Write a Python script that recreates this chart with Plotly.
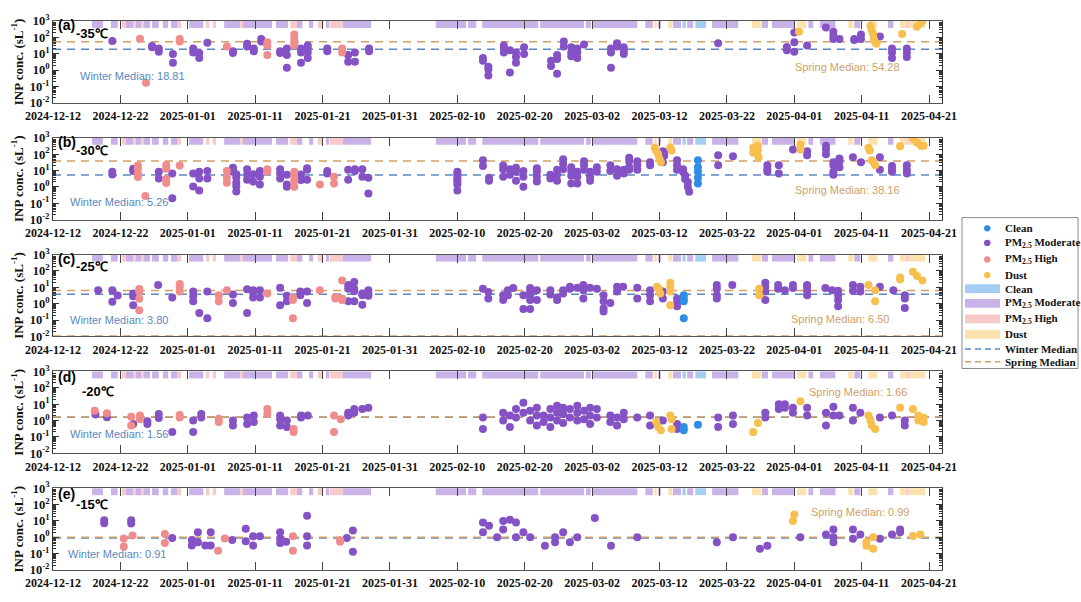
import plotly.graph_objects as go
import pandas as pd

# Campaign start; sample times and band limits are given as days since this date
START = "2024-12-12"
X_END = "2025-04-22 22:00"

M, H, D, C = "PM2.5 Moderate", "PM2.5 High", "Dust", "Clean"

# Pollution-type periods shown as the strip along the top of each panel: (start day, end day, type)
bands = [
    (5.8, 7.4, M), (8.6, 9.6, M), (10.2, 10.8, H), (10.8, 11.9, M), (11.9, 12.3, H),
    (12.3, 13.1, M), (13.1, 13.5, H), (13.5, 14.4, M), (14.7, 15.7, M), (16.3, 17.1, M),
    (17.5, 18.4, M), (18.4, 19.0, H), (20.2, 22.3, M), (22.7, 23.2, H), (23.7, 24.2, H),
    (25.4, 27.8, M), (27.8, 28.2, H), (28.2, 32.5, M), (33.1, 34.9, M), (35.2, 36.2, H),
    (36.2, 37.0, M), (38.0, 38.6, M), (39.3, 40.1, H), (40.5, 41.0, M), (41.1, 43.0, H),
    (43.0, 47.2, M), (56.8, 61.3, M), (61.6, 62.8, M), (63.7, 72.0, M), (72.3, 78.8, M),
    (79.1, 79.8, M), (80.1, 86.7, M), (87.9, 89.0, M), (89.2, 89.6, D), (89.8, 90.2, M),
    (91.3, 91.9, D), (92.0, 93.2, M), (93.4, 93.9, C), (94.1, 95.0, M), (95.3, 96.9, C),
    (97.8, 101.7, M), (103.7, 105.1, D), (105.2, 106.1, M), (106.7, 110.1, M), (110.4, 111.8, D),
    (112.1, 112.8, M), (113.8, 116.1, M), (118.0, 118.7, D), (118.9, 119.8, M), (121.0, 122.3, D),
    (123.9, 124.7, M), (125.7, 126.6, D), (126.6, 127.0, H), (127.0, 129.4, D),
]

# INP concentrations (sL^-1): (day, value, type) per freezing temperature
inp_35 = [
    (8.8, 59, M), (12.9, 81, H), (13.8, 0.17, H), (14.7, 30, M), (14.7, 25, M),
    (15.7, 21, M), (15.7, 13, M), (17.8, 9.5, M), (17.8, 2.8, M), (18.8, 80, H), (18.8, 56, H),
    (20.8, 21, M), (20.8, 12, M), (21.7, 11, M), (21.7, 5.5, M), (22.9, 46, M), (25.8, 28, H),
    (26.7, 14, M), (26.7, 11, M), (28.8, 40, M), (28.8, 28, M), (29.8, 21, M), (29.8, 14, M),
    (30.9, 79, M), (30.9, 56, M), (31.8, 50, H), (31.8, 32, H), (31.8, 8.3, H),
    (33.7, 14, M), (33.7, 11, M), (34.7, 21, M), (34.7, 8.3, M), (34.7, 1.4, M),
    (35.8, 148, H), (35.8, 85, H), (35.8, 50, H), (35.8, 32, H),
    (36.8, 21, M), (36.8, 12, M), (36.8, 2.8, M), (37.8, 32, M), (37.8, 21, M), (37.8, 12, M), (37.8, 5.5, M),
    (40.7, 21, M), (40.7, 14, M), (42.9, 21, H), (42.9, 12, H), (43.8, 8.3, M), (43.8, 3.2, M),
    (44.8, 12, M), (44.8, 3.2, M), (46.9, 21, M), (46.9, 14, M),
    (63.8, 5.5, M), (63.8, 3.7, M), (64.6, 1.6, M), (64.6, 1.1, M), (64.6, 0.46, M),
    (66.9, 32, M), (66.9, 21, M), (66.9, 12, M), (67.8, 16, M), (67.8, 0.7, M),
    (68.7, 12, M), (68.7, 6.3, M), (68.7, 2.8, M), (69.9, 25, M), (69.9, 9.5, M),
    (73.9, 3.7, M), (73.9, 1.8, M), (74.8, 8.3, M), (74.8, 4.7, M), (74.8, 0.6, M),
    (75.8, 56, M), (75.8, 28, M), (76.9, 25, M), (76.9, 12, M), (76.9, 7, M),
    (77.8, 21, M), (77.8, 12, M), (77.8, 5.5, M), (78.8, 37, M),
    (82.8, 21, M), (82.8, 12, M), (82.8, 1.4, M), (83.7, 43, M), (83.7, 28, M),
    (84.7, 25, M), (84.7, 14, M), (84.7, 9.5, M), (98.7, 43, M),
    (108.9, 26, M), (108.9, 16, M), (110.0, 200, M), (110.0, 51, M), (110.0, 13, M), (110.7, 220, D),
    (111.9, 32, M), (114.7, 400, M), (115.8, 220, M), (115.8, 125, M), (115.8, 80, M), (116.7, 80, M),
    (118.9, 80, M), (118.9, 70, M), (119.9, 150, M), (119.9, 80, M),
    (121.3, 500, D), (121.5, 250, D), (121.7, 160, D), (121.8, 80, D), (122.0, 50, D), (122.2, 40, D),
    (122.7, 112, M), (124.5, 21, M), (124.5, 12, M), (124.5, 5.5, M), (126.0, 160, D),
    (126.7, 21, M), (126.7, 12, M), (126.7, 6.3, M), (128.2, 440, D), (128.7, 760, D), (129.0, 950, D),
]

inp_30 = [
    (8.8, 8.3, M), (8.8, 5.8, M), (11.9, 13, M), (11.9, 9.5, M),
    (12.6, 20, H), (12.6, 13, H), (12.6, 6.3, H), (12.6, 4, H), (13.7, 0.28, H),
    (15.7, 8.3, M), (15.7, 3.3, M), (16.8, 22, H), (16.8, 13, H), (16.8, 3, H), (16.8, 1.7, H),
    (17.7, 6.6, M), (17.7, 0.2, M), (18.8, 20, H), (20.8, 6.6, M), (20.8, 1.05, M),
    (21.7, 8.3, M), (21.7, 3.2, M), (21.7, 0.6, M), (22.9, 9.5, M), (22.9, 3.2, M),
    (25.8, 9.5, H), (25.8, 3.6, H), (25.8, 1.8, H),
    (26.7, 15, M), (26.7, 12, M), (26.7, 8.3, M), (27.2, 6, M), (27.2, 3.6, M), (27.2, 1.8, M),
    (27.2, 1.1, M), (27.2, 0.53, M), (28.8, 12, M), (28.8, 5.5, M), (28.8, 2.7, M),
    (29.7, 6, M), (29.7, 2.1, M), (30.7, 9.5, M), (30.7, 4.2, M), (30.7, 1.4, M),
    (31.8, 12, H), (31.8, 8.3, H), (33.7, 12, M), (33.7, 6.6, M), (33.7, 3.2, M),
    (34.7, 5.5, M), (34.7, 1.4, M), (34.7, 1.0, M),
    (35.8, 8.3, H), (35.8, 4.2, H), (35.8, 2.4, H), (35.8, 1.0, H),
    (36.8, 5.8, M), (36.8, 2.6, M), (37.7, 14, M), (37.7, 11, M), (37.7, 2.7, M),
    (39.6, 1.4, H), (40.7, 9.5, M), (40.7, 6.6, M), (41.7, 4.2, H), (41.7, 1.6, H),
    (43.8, 11, M), (43.8, 2.7, M), (44.8, 12, M), (44.8, 9.5, M),
    (45.9, 12, M), (45.9, 4.2, M), (46.8, 3.6, M), (46.8, 0.4, M),
    (60.0, 8.3, M), (60.0, 6.6, M), (60.0, 4.2, M), (60.0, 2.7, M), (60.0, 2.1, M), (60.0, 1.4, M), (60.0, 0.6, M),
    (63.8, 43, M), (63.8, 19, M), (64.7, 3.6, M), (64.7, 2.4, M),
    (66.8, 20, M), (66.8, 12, M), (66.8, 4.2, M), (67.8, 12, M), (67.8, 5.5, M),
    (68.7, 15, M), (68.7, 8.3, M), (68.7, 2.4, M), (69.8, 9.5, M), (69.8, 4.2, M), (69.8, 1.0, M),
    (71.8, 14, M), (71.8, 8.3, M), (71.8, 4.2, M), (71.8, 2.1, M),
    (73.8, 5.5, M), (73.8, 3.2, M), (74.8, 11, M), (74.8, 5.5, M), (74.8, 2.4, M),
    (75.7, 49, M), (75.7, 25, M), (75.7, 12, M),
    (76.9, 16, M), (76.9, 9.5, M), (76.9, 4.8, M), (76.9, 1.6, M),
    (77.8, 8.3, M), (77.8, 4.2, M), (77.8, 1.6, M), (78.8, 37, M), (78.8, 21, M), (78.8, 11, M),
    (79.7, 8.3, M), (79.7, 4.2, M), (79.7, 2.4, M), (80.7, 16, M), (80.7, 8.3, M),
    (82.7, 21, M), (82.7, 9.5, M), (83.7, 12, M), (83.7, 4.8, M), (84.7, 11, M), (84.7, 6.6, M),
    (85.5, 60, M), (85.5, 37, M), (85.5, 16, M), (85.5, 11, M), (86.7, 37, M), (86.7, 21, M), (86.7, 11, M),
    (88.6, 32, M), (88.6, 21, M),
    (89.3, 250, D), (89.5, 170, D), (89.8, 100, D), (90.0, 50, D), (90.2, 32, D),
    (90.5, 150, M), (90.7, 120, M), (90.7, 80, M), (90.5, 32, M), (91.6, 250, D), (91.8, 170, D),
    (92.6, 43, M), (92.6, 21, M), (92.6, 11, M),
    (93.5, 12, M), (93.5, 8, M), (93.8, 5, M), (93.8, 3, M), (94.2, 2, M), (94.2, 1, M), (94.4, 0.5, M),
    (95.7, 43, C), (95.7, 16, C), (95.7, 8.3, C), (95.7, 3.6, C), (95.7, 1.6, C),
    (98.7, 85, M), (98.7, 21, M), (100.9, 75, M),
    (103.9, 250, D), (103.9, 120, D), (104.6, 330, D), (104.6, 170, D), (104.7, 65, D),
    (106.0, 21, M), (106.0, 12, M), (106.0, 8.3, M), (107.7, 21, M), (107.7, 6.6, M),
    (109.8, 190, M), (110.9, 380, D), (110.9, 190, D), (111.9, 150, M), (111.9, 85, M),
    (114.7, 330, M), (114.7, 190, M), (114.7, 100, M),
    (115.8, 32, M), (115.8, 21, M), (115.8, 8.3, M), (115.8, 5.5, M),
    (116.7, 55, M), (116.7, 37, M), (116.7, 16, M), (118.7, 65, M), (119.9, 32, M),
    (121.0, 250, D), (121.2, 170, D), (121.5, 43, D), (121.8, 32, D), (122.0, 21, D),
    (122.7, 65, M), (122.7, 11, M), (124.5, 19, M), (124.5, 12, M), (124.5, 8.3, M),
    (125.7, 300, D), (126.7, 21, M), (126.7, 11, M), (126.7, 6.6, M),
    (127.6, 870, D), (128.2, 500, D), (128.8, 330, D), (129.2, 330, D),
]

inp_25 = [
    (6.7, 6.6, M), (8.8, 6.6, M), (8.8, 1.3, M), (9.6, 3.2, M),
    (11.9, 4.2, M), (11.9, 2.8, M), (11.9, 0.8, M),
    (12.8, 8, H), (12.8, 5.5, H), (12.8, 2, H), (12.8, 0.4, H), (15.6, 14, M), (17.7, 2.4, M),
    (18.8, 16, H), (18.8, 11, H), (18.8, 5.5, H),
    (20.8, 5.5, M), (20.8, 2.8, M), (20.8, 1.4, M), (21.7, 0.27, M), (22.9, 5.5, M), (22.9, 0.13, M),
    (24.6, 3.3, H), (24.6, 1.4, H), (25.8, 6.6, H), (26.7, 3.6, M), (26.7, 1.1, M),
    (28.8, 7.5, M), (28.8, 0.27, M), (29.7, 6.6, M), (29.7, 5.5, M), (29.7, 2.4, M),
    (30.7, 6.6, M), (30.7, 2.4, M), (31.8, 4.2, H), (33.7, 9.5, M), (33.7, 0.8, M),
    (34.7, 3.1, M), (34.7, 1.4, M), (35.6, 2.4, H), (35.6, 1.7, H), (35.6, 0.13, H),
    (36.7, 5.5, M), (36.7, 3.3, M), (37.7, 5.5, M), (37.7, 1.1, M), (39.6, 6.6, H),
    (41.9, 2.6, H), (41.9, 2.1, H), (42.9, 26, H), (42.9, 2.1, H), (42.9, 1.7, H),
    (43.8, 14, M), (43.8, 8.3, M), (43.8, 1.4, M),
    (44.7, 21, M), (44.7, 8.3, M), (44.7, 5.8, M), (44.7, 1.4, M),
    (45.9, 4.2, M), (45.9, 3.3, M), (45.9, 0.85, M), (46.8, 6.6, M), (46.8, 4.2, M), (46.8, 3.1, M),
    (63.8, 8.3, M), (64.6, 5.2, M), (64.6, 2.1, M), (66.8, 3.3, M), (66.8, 1.7, M),
    (67.5, 6.6, M), (67.5, 3.3, M), (68.3, 9.1, M), (69.8, 3.3, M), (69.8, 0.48, M),
    (70.8, 9.1, M), (70.8, 5.5, M), (70.8, 3.3, M), (70.8, 1.7, M), (70.8, 0.48, M),
    (71.8, 6.6, M), (71.8, 1.7, M), (73.8, 6.6, M), (73.8, 3.6, M), (74.8, 2.4, M), (74.8, 1.7, M),
    (75.7, 6.6, M), (75.7, 4.2, M), (76.7, 11, M), (76.7, 8.3, M), (77.8, 9.5, M),
    (78.7, 14, M), (78.7, 6.6, M), (78.7, 2.1, M), (79.7, 9.5, M), (80.7, 8.3, M),
    (81.7, 3.3, M), (81.7, 1.4, M), (81.7, 0.5, M), (81.7, 0.33, M), (82.7, 1.1, M),
    (83.7, 11, M), (83.7, 5.5, M), (84.6, 11, M), (86.7, 9.5, M), (86.7, 2.1, M),
    (88.6, 6.6, M), (88.6, 3.3, M), (88.6, 1.4, M),
    (89.6, 11, D), (89.9, 8.3, D), (90.1, 4.2, D), (90.5, 5.5, M), (90.5, 2.1, M),
    (91.6, 19, D), (91.6, 11, D), (91.6, 5.5, D), (91.6, 0.8, D),
    (92.6, 2.1, M), (92.6, 1.1, M), (92.6, 0.7, M),
    (93.6, 3.3, C), (93.6, 2.1, C), (93.6, 1.4, C), (93.6, 0.13, C),
    (98.5, 14, M), (98.5, 8.3, M), (98.5, 3.3, M), (98.5, 2.1, M), (100.8, 14, M),
    (104.8, 8.3, D), (104.8, 3.3, D), (105.7, 19, M), (105.7, 11, M), (105.7, 5.5, M), (105.7, 1.7, M),
    (107.6, 14, M), (107.6, 8.3, M), (108.6, 6.6, M), (109.8, 14, M), (109.8, 9.1, M),
    (111.9, 14, M), (111.9, 11, M), (111.9, 6.1, M), (111.9, 3.3, M),
    (114.6, 9.1, M), (115.6, 6.6, M), (116.5, 6.1, M), (116.5, 3.3, M), (116.5, 1.7, M), (116.5, 0.7, M),
    (118.7, 14, M), (118.7, 6.1, M), (119.8, 11, M), (119.8, 5.5, M),
    (121.0, 14, D), (122.0, 6.6, D), (122.0, 1.4, D), (122.7, 11, M), (124.7, 6.6, M),
    (125.7, 40, D), (125.7, 30, D), (126.4, 3.3, M), (126.4, 2.1, M), (126.4, 0.55, M),
    (127.6, 90, D), (128.2, 50, D), (129.0, 26, D),
]

inp_20 = [
    (6.2, 4.0, H), (6.3, 2.3, M), (8.0, 2.8, H), (8.0, 1.6, M),
    (11.6, 1.7, H), (11.6, 0.5, H), (11.9, 0.6, M), (12.9, 2.0, H), (12.9, 1.2, H),
    (14.0, 0.9, M), (14.0, 0.6, M), (15.7, 2.5, M), (15.7, 1.4, M), (17.7, 0.2, M),
    (18.8, 2.2, H), (18.8, 1.5, H), (20.8, 0.2, M), (20.8, 1.0, M), (22.0, 2.5, M), (22.0, 1.5, M),
    (24.6, 0.8, H), (24.6, 1.3, H), (26.7, 1.0, M), (26.7, 0.5, M), (28.8, 1.5, M), (28.8, 0.6, M),
    (29.8, 2.0, M), (29.8, 0.8, M), (31.8, 5.0, H), (31.8, 2.5, H),
    (33.7, 2.0, M), (33.7, 1.2, M), (33.7, 0.5, M), (34.7, 1.0, M), (34.7, 0.4, M),
    (35.7, 0.3, H), (35.7, 0.2, H), (36.8, 1.5, M), (36.8, 2.0, M), (37.8, 2.0, M),
    (41.7, 2.0, H), (41.7, 0.2, H), (42.7, 1.2, H), (43.8, 3.0, M), (43.8, 2.0, M),
    (44.7, 5.0, M), (44.7, 3.0, M), (45.9, 5.0, M), (46.8, 6.0, M),
    (63.8, 1.5, M), (63.8, 0.3, M), (66.8, 3.0, M), (66.8, 1.0, M), (67.8, 2.0, M), (67.8, 0.4, M),
    (68.7, 5.0, M), (68.7, 1.5, M), (69.8, 12, M), (69.8, 3.0, M), (70.8, 4, M), (70.8, 1.0, M),
    (71.8, 6, M), (71.8, 2, M), (71.8, 0.5, M), (72.8, 2.0, M), (72.8, 0.8, M),
    (73.8, 5.0, M), (73.8, 1.5, M), (73.8, 0.4, M), (74.8, 8, M), (74.8, 3, M), (74.8, 1, M),
    (75.7, 6, M), (75.7, 2.5, M), (75.7, 0.7, M), (76.7, 5, M), (76.7, 1.5, M),
    (77.8, 8, M), (77.8, 3, M), (77.8, 1, M), (78.8, 4, M), (78.8, 1.2, M),
    (79.7, 6, M), (79.7, 2, M), (79.7, 0.6, M), (80.7, 5, M), (80.7, 1.5, M),
    (82.7, 2, M), (82.7, 0.8, M), (83.7, 1.5, M), (83.7, 0.5, M), (84.7, 3, M), (84.7, 1.2, M),
    (86.7, 1.5, M), (88.6, 2, M), (88.6, 0.5, M),
    (89.5, 0.8, D), (89.8, 0.4, D), (90.2, 0.25, D), (90.5, 1.0, M),
    (91.6, 2.0, D), (91.8, 1.2, D), (91.8, 0.3, D), (92.6, 0.6, M), (92.6, 0.3, M),
    (93.6, 0.4, C), (93.6, 0.25, C), (95.7, 0.55, C),
    (98.7, 1.5, M), (98.7, 0.4, M), (100.9, 2, M), (100.9, 0.6, M),
    (103.9, 0.2, D), (104.6, 0.7, D), (105.7, 3, M), (105.7, 1.5, M),
    (107.7, 10, M), (107.7, 5, M), (108.6, 10, M), (108.6, 6, M), (109.8, 6, M), (109.8, 3, M),
    (110.9, 15, D), (111.9, 6, M), (111.9, 2, M), (114.7, 3, M), (114.7, 0.5, M),
    (115.8, 7, M), (115.8, 2, M), (116.7, 2, M), (118.7, 6, M), (118.7, 1, M), (119.8, 3, M),
    (121.0, 2, D), (121.3, 1, D), (121.5, 0.5, D), (122.0, 0.3, D), (122.7, 1.5, M), (124.5, 2, M),
    (125.7, 6, D), (126.4, 1, M), (126.4, 0.5, M),
    (127.6, 5, D), (128.4, 2, D), (128.4, 1, D), (129.2, 1.5, D), (129.2, 0.8, D),
]

inp_15 = [
    (7.6, 11, M), (7.6, 7.2, M), (10.5, 0.83, H), (10.5, 0.27, H), (11.6, 11, M), (11.6, 7, M),
    (11.8, 1.3, H), (16.6, 1.6, H), (16.6, 0.45, H), (17.7, 0.9, M),
    (20.6, 0.68, M), (20.6, 0.31, M), (21.5, 2.0, M), (21.5, 0.49, M), (22.6, 0.31, M),
    (23.4, 2.0, M), (23.4, 0.31, M), (24.5, 0.15, H), (25.5, 0.84, H), (26.6, 0.68, M),
    (28.6, 3.3, M), (28.6, 0.58, M), (29.7, 1.15, M), (29.7, 0.31, M), (30.7, 1.15, M),
    (33.7, 2.0, M), (33.7, 0.83, M), (33.7, 0.45, M), (34.6, 0.53, M), (35.6, 1.15, H), (35.6, 0.15, H),
    (37.7, 21, M), (37.7, 1.15, M), (37.7, 0.31, M), (42.6, 0.65, H), (42.6, 0.53, H),
    (43.6, 0.9, M), (44.5, 2.6, M), (44.5, 0.13, M),
    (63.8, 8, M), (63.8, 2, M), (64.7, 5, M), (65.9, 1, M), (66.8, 10, M), (66.8, 3, M),
    (67.8, 12, M), (68.7, 8, M), (68.7, 1, M), (69.8, 2, M), (70.8, 1, M),
    (73.0, 0.3, M), (74.5, 0.5, M), (74.5, 1.0, M), (75.7, 2, M), (76.7, 0.5, M), (77.8, 1, M),
    (80.4, 15, M), (82.8, 0.3, M), (86.7, 1, M), (98.5, 0.5, M), (100.9, 1, M),
    (104.9, 0.2, M), (106.0, 0.3, M), (109.8, 10, D), (110.0, 25, D), (110.9, 1, M),
    (114.7, 1.5, M), (115.8, 3, M), (115.8, 1, M), (115.8, 0.5, M),
    (118.7, 3, M), (118.7, 0.8, M), (119.8, 1.5, M),
    (120.7, 0.5, D), (120.7, 0.3, D), (121.7, 1, D), (121.7, 0.2, D),
    (122.7, 0.8, M), (124.5, 1.5, M), (125.7, 3, M), (125.7, 2, M), (127.6, 1.2, D), (128.7, 1.5, D),
]

panel_labels = ["(a)", "(b)", "(c)", "(d)", "(e)"]
temperatures = ["-35℃", "-30℃", "-25℃", "-20℃", "-15℃"]
winter_medians = [18.81, 5.26, 3.80, 1.56, 0.91]
spring_medians = [54.28, 38.16, 6.50, 1.66, 0.99]
panel_data = [inp_35, inp_30, inp_25, inp_20, inp_15]

x_tick_dates = pd.date_range(START, "2025-04-21", freq="10D")
y_tick_vals = [1e-2, 1e-1, 1e0, 1e1, 1e2, 1e3]
y_tick_text = ["10<sup>-2</sup>", "10<sup>-1</sup>", "10<sup>0</sup>",
               "10<sup>1</sup>", "10<sup>2</sup>", "10<sup>3</sup>"]

point_colors = {C: "#2F8DE4", M: "#8552C6", H: "#F08C8C", D: "#F6BF4E"}
band_colors = {C: "#A5CEF3", M: "#C8B2E8", H: "#F8CACA", D: "#FBE1AE"}
winter_color = "#5A88C2"
spring_color = "#D2A064"
legend_names = {C: "Clean", M: "PM<sub>2.5</sub> Moderate", H: "PM<sub>2.5</sub> High", D: "Dust"}

SERIF = "Liberation Serif"
SANS = "Liberation Sans"

# figure / plot-area geometry in pixels
FIG_W, FIG_H = 1081, 602
PLOT_L, PLOT_R, PLOT_T, PLOT_B = 53, 942, 15, 579
PW, PH = PLOT_R - PLOT_L, PLOT_B - PLOT_T

t0 = pd.Timestamp(START)


def to_dates(days):
    return [t0 + pd.Timedelta(days=d) for d in days]


def px_x(px):
    return (px - PLOT_L) / PW


def px_y(py):
    return (PLOT_B - py) / PH


fig = go.Figure()

panel_h = 84 / PH
step = 120 / PH
shapes = []
annotations = []
layout_axes = {}

for i, data in enumerate(panel_data):
    n = i + 1
    xa = "x" if n == 1 else f"x{n}"
    ya = "y" if n == 1 else f"y{n}"
    top = 1 - i * step
    bottom = top - panel_h

    # median lines
    span = [pd.Timestamp(START), pd.Timestamp(X_END)]
    fig.add_trace(go.Scatter(x=span, y=[winter_medians[i]] * 2, mode="lines", showlegend=False,
                             hoverinfo="skip", line=dict(color=winter_color, width=1.5, dash="8px,6px"),
                             xaxis=xa, yaxis=ya))
    fig.add_trace(go.Scatter(x=span, y=[spring_medians[i]] * 2, mode="lines", showlegend=False,
                             hoverinfo="skip", line=dict(color=spring_color, width=1.5, dash="8px,6px"),
                             xaxis=xa, yaxis=ya))
    if n == 3:
        fig.add_trace(go.Scatter(x=span, y=[0.0104, 0.0104], mode="lines", showlegend=False,
                                 hoverinfo="skip", line=dict(color=spring_color, width=1.5, dash="8px,6px"),
                                 xaxis=xa, yaxis=ya))

    # INP points by type
    for cat in [M, H, D, C]:
        pts = [p for p in data if p[2] == cat]
        if not pts:
            continue
        fig.add_trace(go.Scatter(x=to_dates([p[0] for p in pts]), y=[p[1] for p in pts],
                                 mode="markers", showlegend=False, name=cat,
                                 marker=dict(color=point_colors[cat], size=8),
                                 xaxis=xa, yaxis=ya))

    # pollution-type strip
    for b0, b1, cat in bands:
        shapes.append(dict(type="rect", xref=xa, yref=f"{ya} domain",
                           x0=t0 + pd.Timedelta(days=b0), x1=t0 + pd.Timedelta(days=b1),
                           y0=0.915, y1=1.0, fillcolor=band_colors[cat], line=dict(width=0),
                           layer="below"))

    layout_axes["xaxis" if n == 1 else f"xaxis{n}"] = dict(
        domain=[0, 1], anchor=ya, type="date", range=[START, X_END],
        tickvals=list(x_tick_dates), tickformat="%Y-%m-%d",
        ticks="inside", ticklen=8, tickcolor="#444", showline=True, linecolor="#555",
        linewidth=1, mirror="ticks", showgrid=False, zeroline=False, ticklabelstandoff=2,
        tickfont=dict(family=SERIF, size=12, color="#111", weight="bold"),
    )
    layout_axes["yaxis" if n == 1 else f"yaxis{n}"] = dict(
        domain=[bottom, top], anchor=xa, type="log", range=[-2, 3],
        tickvals=y_tick_vals, ticktext=y_tick_text, ticks="inside", ticklen=6,
        tickcolor="#333", showline=True, linecolor="#333", linewidth=1, mirror="ticks",
        showgrid=False, zeroline=False,
        minor=dict(ticks="inside", ticklen=3, tickcolor="#333", dtick="D1", showgrid=False),
        tickfont=dict(family=SERIF, size=12.5, color="#111", weight="bold"),
        title=dict(text="INP conc. (sL<sup>-1</sup>)", standoff=3,
                   font=dict(family=SERIF, size=13, color="#111", weight="bold")),
    )

    # labels
    label_y = {0: 0.952, 1: 0.952, 2: 0.952, 3: 0.93, 4: 0.93}[i]
    temp_x = 0.024 if i < 3 else (0.030 if i == 3 else 0.024)
    temp_y = 0.85 if i < 3 else (0.75 if i == 3 else 0.80)
    annotations.append(dict(text=panel_labels[i], xref=f"{xa} domain", yref=f"{ya} domain",
                            x=0.003, y=label_y, xanchor="left", yanchor="middle", showarrow=False,
                            font=dict(family=SANS, size=14, color="#000", weight="bold")))
    annotations.append(dict(text=temperatures[i], xref=f"{xa} domain", yref=f"{ya} domain",
                            x=temp_x, y=temp_y, xanchor="left", yanchor="middle", showarrow=False,
                            font=dict(family=SANS, size=13, color="#000", weight="bold")))
    wx, wy = [(0.028, 0.333), (0.017, 0.214), (0.017, 0.206), (0.017, 0.238), (0.015, 0.19)][i]
    sx, sy = [(0.832, 0.44), (0.832, 0.357), (0.828, 0.214), (0.848, 0.75), (0.850, 0.714)][i]
    annotations.append(dict(text=f"Winter Median: {winter_medians[i]:.2f}", xref=f"{xa} domain",
                            yref=f"{ya} domain", x=wx, y=wy, xanchor="left", yanchor="middle",
                            showarrow=False, font=dict(family=SANS, size=11, color=winter_color)))
    annotations.append(dict(text=f"Spring Median: {spring_medians[i]:.2f}", xref=f"{xa} domain",
                            yref=f"{ya} domain", x=sx, y=sy, xanchor="left", yanchor="middle",
                            showarrow=False, font=dict(family=SANS, size=11, color=spring_color)))

# legend box, drawn in paper coordinates
leg_font = dict(family=SERIF, size=11, color="#111", weight="bold")
shapes.append(dict(type="rect", xref="paper", yref="paper", x0=px_x(962), x1=px_x(1078),
                   y0=px_y(372), y1=px_y(217), line=dict(color="#8a8a8a", width=1),
                   fillcolor="white", layer="above"))
marker_rows = [228, 243, 260, 276]
band_rows = [290, 305, 321, 337]
line_rows = [352, 365]
for row, cat in zip(marker_rows, [C, M, H, D]):
    shapes.append(dict(type="circle", xref="paper", yref="paper",
                       x0=px_x(984), x1=px_x(990.5), y0=px_y(row + 3.25), y1=px_y(row - 3.25),
                       fillcolor=point_colors[cat], line=dict(width=0), layer="above"))
    annotations.append(dict(text=legend_names[cat], xref="paper", yref="paper", x=px_x(1003),
                            y=px_y(row), xanchor="left", yanchor="middle", showarrow=False,
                            font=leg_font))
for row, cat in zip(band_rows, [C, M, H, D]):
    shapes.append(dict(type="rect", xref="paper", yref="paper",
                       x0=px_x(965), x1=px_x(1000), y0=px_y(row + 4.5), y1=px_y(row - 4.5),
                       fillcolor=band_colors[cat], line=dict(width=0), layer="above"))
    annotations.append(dict(text=legend_names[cat], xref="paper", yref="paper", x=px_x(1003),
                            y=px_y(row), xanchor="left", yanchor="middle", showarrow=False,
                            font=leg_font))
for row, name, color in zip(line_rows, ["Winter Median", "Spring Median"], [winter_color, spring_color]):
    shapes.append(dict(type="line", xref="paper", yref="paper",
                       x0=px_x(965), x1=px_x(1000), y0=px_y(row), y1=px_y(row),
                       line=dict(color=color, width=1.5, dash="6px,4px"), layer="above"))
    annotations.append(dict(text=name, xref="paper", yref="paper", x=px_x(1003),
                            y=px_y(row), xanchor="left", yanchor="middle", showarrow=False,
                            font=leg_font))

fig.update_layout(
    width=FIG_W, height=FIG_H,
    margin=dict(l=PLOT_L, r=FIG_W - PLOT_R, t=PLOT_T, b=FIG_H - PLOT_B),
    paper_bgcolor="white", plot_bgcolor="white", showlegend=False,
    shapes=shapes, annotations=annotations,
    **layout_axes,
)

fig.write_html("out.html")
